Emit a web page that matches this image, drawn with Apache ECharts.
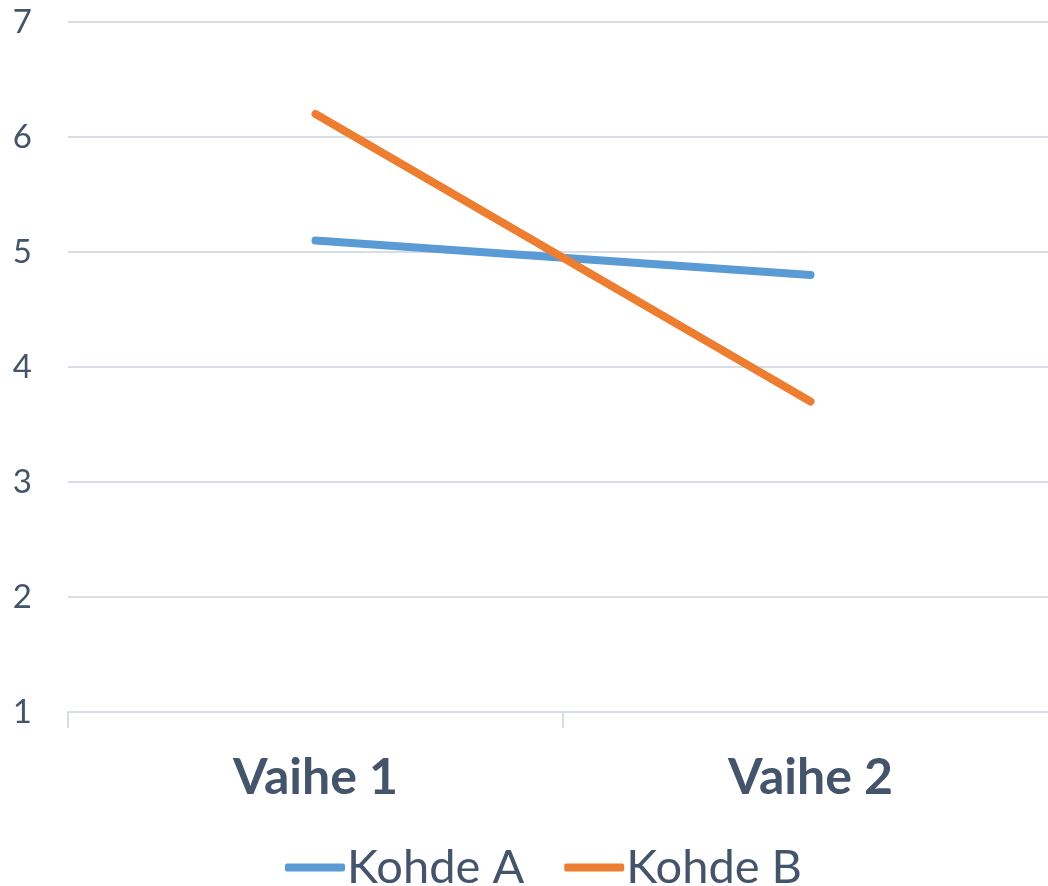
<!DOCTYPE html>
<html>
<head>
<meta charset="utf-8">
<script src="https://cdn.jsdelivr.net/npm/echarts@6/dist/echarts.min.js"></script>
<style>
  html, body { margin: 0; padding: 0; background: #fff; }
  #chart { width: 1048px; height: 886px; }
</style>
</head>
<body>
<div id="chart"></div>
<script>
// data
const categories = ['Vaihe 1', 'Vaihe 2'];
const kohdeA = [5.1, 4.8];
const kohdeB = [6.2, 3.7];
const seriesNames = ['Kohde A', 'Kohde B'];
const colors = ['#5B9BD5', '#ED7D31'];

const textColor = '#44546A';
const lineGray = '#D9DEE6';
const font = 'Lato, "Open Sans", sans-serif';

const chart = echarts.init(document.getElementById('chart'));
chart.setOption({
    animation: false,
    color: colors,
    // plot runs a little past the right edge, so the last tick is hidden
    grid: { left: 68, right: -10, top: 22, bottom: 174, outerBoundsMode: 'none', containLabel: false },
    legend: {
        top: 839,
        left: 280,
        icon: 'roundRect',
        itemWidth: 60,
        itemHeight: 8,
        itemGap: 40,
        textStyle: { color: textColor, fontSize: 47, fontFamily: font, padding: [0, 0, 0, -3] },
        data: seriesNames
    },
    xAxis: {
        type: 'category',
        data: categories,
        boundaryGap: true,
        axisLine: { lineStyle: { color: lineGray, width: 2 } },
        axisTick: { show: true, length: 16, lineStyle: { color: lineGray, width: 2 } },
        axisLabel: { color: textColor, fontSize: 50, fontWeight: 'bold', fontFamily: font, margin: 41 }
    },
    yAxis: {
        type: 'value',
        min: 1,
        max: 7,
        interval: 1,
        axisLine: { show: false },
        axisTick: { show: false },
        axisLabel: { color: textColor, fontSize: 33, fontFamily: font, margin: 36 },
        splitLine: { lineStyle: { color: lineGray, width: 2 } }
    },
    series: [
        {
            name: seriesNames[0],
            type: 'line',
            data: kohdeA,
            showSymbol: false,
            symbol: 'none',
            lineStyle: { width: 8, cap: 'round' }
        },
        {
            name: seriesNames[1],
            type: 'line',
            data: kohdeB,
            showSymbol: false,
            symbol: 'none',
            lineStyle: { width: 8, cap: 'round' }
        }
    ]
});
</script>
</body>
</html>
